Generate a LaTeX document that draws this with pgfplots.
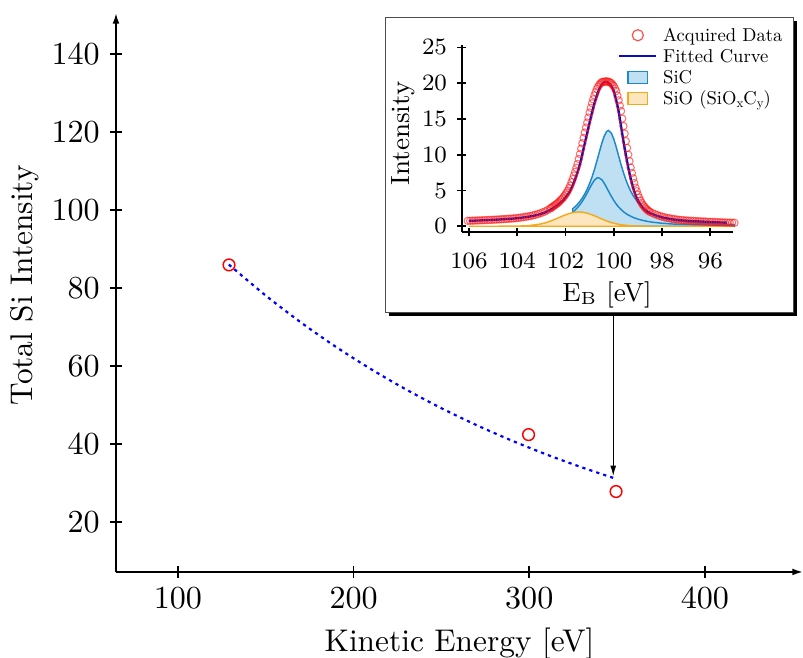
\documentclass[border=0pt]{standalone}
\usepackage{pgfplots}
\pgfplotsset{compat=1.18}
\usetikzlibrary{arrows.meta}
\definecolor{sicline}{RGB}{30,136,200}
\definecolor{sicfill}{RGB}{190,224,242}
\definecolor{sioline}{RGB}{245,170,30}
\definecolor{siofill}{RGB}{253,230,190}
\definecolor{fitcol}{RGB}{10,10,190}
\definecolor{datacol}{RGB}{255,20,20}
\font\legrm="[lmroman10-regular]:+tlig;" at 6.35pt
\font\legsub="[lmroman10-regular]:+tlig;" at 4.4pt
\begin{document}
\begin{tikzpicture}
\begin{axis}[
  at={(0pt,0pt)}, anchor=south west,
  scale only axis, width=234.42pt, height=190.74pt,
  xmin=64.77, xmax=455.8, ymin=7.18, ymax=150.5,
  axis lines=left,
  axis line style={line width=0.6pt, -{Latex[length=3.6pt,width=2.3pt]}},
  xtick={100,200,300,400}, ytick={20,40,...,140},
  tick align=center, major tick length=4pt,
  tick style={line width=0.6pt, black},
  ticklabel style={font=\fontsize{10.5}{12}\selectfont},
  label style={font=\fontsize{10.7}{13}\selectfont},
  xlabel={Kinetic Energy [eV]}, ylabel={Total Si Intensity},
  xlabel style={at={(axis description cs:0.5,0)}, anchor=base, yshift=-27pt},
  ylabel style={at={(axis description cs:0,0.513)}, anchor=center, yshift=31pt},
  clip=false,
]
\addplot[blue, line width=0.75pt, dash pattern=on 1.1pt off 1.4pt, smooth] coordinates {
(129,86.0) (150,78.05) (170,71.17) (190,64.88) (210,59.16) (230,53.94) (250,49.17) (270,44.83) (290,40.88) (310,37.27) (330,33.99) (347.8,31.30)};
\addplot[only marks, mark=o, mark size=2pt, red, mark options={line width=0.5pt}] coordinates {
(129.1,85.9) (299.6,42.4) (349.4,27.8)};
\end{axis}
% arrow and inset frame
\draw[line width=0.35pt, -{Latex[length=3.5pt,width=2pt]}] (169.67pt,88.72pt) -- (169.67pt,32.76pt);
\fill[black] (93.0pt,87.5pt) rectangle (232.3pt,188.0pt);
\filldraw[fill=white, draw=black!70, line width=0.3pt] (91.79pt,88.72pt) rectangle (231.0pt,189.37pt);
\begin{axis}[
  at={(117.96pt,116.01pt)}, anchor=south west,
  scale only axis, width=92.67pt, height=63.70pt,
  xmin=95.05, xmax=106.3, ymin=-0.8, ymax=25.3,
  x dir=reverse,
  axis lines=left, axis line style={line width=0.6pt, -},
  xtick={96,98,...,106}, ytick={0,5,...,25},
  tick align=center, major tick length=3pt, tick style={line width=0.6pt,black},
  ticklabel style={font=\fontsize{8.5}{10}\selectfont},
  xticklabel style={yshift=-2.3pt},
  label style={font=\fontsize{9}{11}\selectfont},
  xlabel={E$_\mathrm{B}$ [eV]}, ylabel={Intensity},
  xlabel style={at={(axis description cs:0.535,0)}, anchor=center, yshift=-21.5pt},
  ylabel style={at={(axis description cs:0,0.527)}, anchor=center, yshift=19.8pt},
  legend style={at={(axis description cs:1.183,1.104)}, anchor=north east, draw=none, fill=none,
    font=\legrm, row sep=1.2pt, column sep=2pt, inner sep=0pt,
    nodes={inner sep=0pt, text height=5pt, text depth=1pt},
    cells={anchor=west}},
  clip=false,
]
% SiC main component (filled)
\addplot[sicline, line width=0.5pt, fill=sicfill, forget plot] coordinates {
(101.7,2.45) (101.6,2.74) (101.5,3.08) (101.4,3.49) (101.3,3.96) (101.2,4.53) (101.1,5.19) (101.0,5.98) (100.9,6.89) (100.8,7.94) (100.7,9.12) (100.6,10.35) (100.5,11.55) (100.4,12.57) (100.3,13.23) (100.22,13.4) (100.1,13.02) (100.0,12.20) (99.9,11.08) (99.8,9.85) (99.7,8.63) (99.6,7.51) (99.5,6.51) (99.4,5.65) (99.3,4.91) (99.2,4.29) (99.0,3.32) (98.8,2.62) (98.6,2.11) (98.4,1.73) (98.2,1.44) (98.0,1.21) (97.5,0.83) (97.0,0.61) (96.5,0.46) (96.0,0.36) (95.5,0.29) (95.0,0.24)} \closedcycle;
% SiC second component (outline)
\addplot[sicline, line width=0.5pt, forget plot] coordinates {
(101.7,1.98) (101.6,2.27) (101.5,2.62) (101.4,3.02) (101.3,3.50) (101.2,4.05) (101.1,4.66) (101.0,5.31) (100.9,5.93) (100.8,6.44) (100.7,6.75) (100.64,6.8) (100.5,6.52) (100.4,6.05) (100.3,5.44) (100.2,4.79) (100.1,4.17) (100.0,3.61) (99.9,3.11) (99.8,2.69) (99.7,2.34) (99.6,2.04) (99.5,1.78) (99.4,1.57) (99.2,1.24) (99.0,1.00) (98.8,0.82) (98.6,0.68) (98.4,0.57) (98.0,0.42) (97.5,0.30) (97.0,0.23) (96.0,0.14) (95.0,0.10)};
% SiO component (filled)
\addplot[sioline, line width=0.5pt, fill=siofill, forget plot] coordinates {
(106.0,0) (105.0,0) (104.0,0.016) (103.5,0.088) (103.0,0.335) (102.8,0.516) (102.6,0.748) (102.4,1.02) (102.2,1.32) (102.0,1.60) (101.8,1.83) (101.6,1.97) (101.45,2.0) (101.3,1.97) (101.1,1.83) (100.9,1.60) (100.7,1.32) (100.5,1.02) (100.3,0.748) (100.1,0.516) (99.9,0.335) (99.7,0.205) (99.4,0.088) (99.0,0.023) (98.5,0.003) (98.0,0) (95.0,0)} \closedcycle;
% acquired data
\addplot[only marks, mark=o, mark size=1.25pt, datacol, mark options={line width=0.35pt, draw opacity=0.6}, forget plot] table[row sep=\\] {
106.05 0.76\\ 105.95 0.77\\ 105.85 0.78\\ 105.75 0.80\\ 105.65 0.81\\ 105.55 0.82\\ 105.45 0.84\\ 105.35 0.85\\ 105.25 0.87\\ 105.15 0.89\\
105.05 0.90\\ 104.95 0.92\\ 104.85 0.94\\ 104.75 0.96\\ 104.65 0.98\\ 104.55 1.00\\ 104.45 1.02\\ 104.35 1.05\\ 104.25 1.07\\ 104.15 1.10\\
104.05 1.13\\ 103.95 1.17\\ 103.85 1.22\\ 103.75 1.27\\ 103.65 1.32\\ 103.55 1.38\\ 103.45 1.44\\ 103.35 1.52\\ 103.25 1.60\\ 103.15 1.70\\
103.05 1.81\\ 102.95 1.94\\ 102.85 2.07\\ 102.75 2.25\\ 102.65 2.45\\
102.60 2.55\\ 102.55 2.67\\ 102.50 2.80\\ 102.45 2.92\\ 102.40 3.05\\ 102.35 3.17\\ 102.30 3.30\\ 102.25 3.47\\ 102.20 3.65\\ 102.15 3.82\\
102.10 4.00\\ 102.05 4.22\\ 102.00 4.45\\ 101.95 4.72\\ 101.90 5.00\\ 101.85 5.35\\ 101.80 5.70\\ 101.75 6.15\\ 101.70 6.60\\ 101.65 7.10\\
101.60 7.60\\ 101.55 8.15\\ 101.50 8.70\\ 101.45 9.40\\ 101.40 10.10\\ 101.35 10.85\\ 101.30 11.60\\ 101.25 12.35\\ 101.20 13.10\\ 101.15 13.80\\
101.10 14.50\\ 101.05 15.20\\ 101.00 15.90\\ 100.95 16.55\\ 100.90 17.20\\ 100.85 17.75\\ 100.80 18.30\\ 100.75 18.75\\ 100.70 19.20\\ 100.65 19.50\\
100.60 19.80\\ 100.55 19.98\\ 100.50 20.15\\ 100.45 20.18\\ 100.40 20.20\\ 100.35 20.25\\ 100.30 20.25\\ 100.25 20.22\\ 100.20 20.20\\ 100.15 20.10\\
100.10 20.00\\ 100.05 19.80\\ 100.00 19.60\\ 99.95 19.25\\ 99.90 18.90\\ 99.85 18.25\\ 99.80 17.60\\ 99.75 16.85\\ 99.70 16.10\\ 99.65 15.05\\
99.60 14.00\\ 99.55 12.95\\ 99.50 11.90\\ 99.45 10.95\\ 99.40 10.00\\ 99.35 9.10\\ 99.30 8.20\\ 99.25 7.45\\ 99.20 6.70\\ 99.15 6.05\\
99.10 5.40\\ 99.05 4.90\\ 99.00 4.40\\ 98.95 4.00\\ 98.90 3.60\\ 98.85 3.30\\ 98.80 3.00\\ 98.75 2.80\\ 98.70 2.60\\ 98.65 2.42\\
98.60 2.25\\ 98.55 2.12\\ 98.50 2.00\\
98.40 1.85\\ 98.30 1.70\\ 98.20 1.57\\ 98.10 1.45\\ 98.00 1.35\\ 97.90 1.25\\ 97.80 1.18\\ 97.70 1.12\\ 97.60 1.05\\ 97.50 1.00\\
97.40 0.95\\ 97.30 0.90\\ 97.20 0.87\\ 97.10 0.84\\ 97.00 0.81\\ 96.90 0.79\\ 96.80 0.77\\ 96.70 0.75\\ 96.60 0.73\\ 96.50 0.71\\
96.40 0.69\\ 96.30 0.67\\ 96.20 0.65\\ 96.10 0.63\\ 96.00 0.62\\ 95.90 0.60\\ 95.80 0.59\\ 95.70 0.57\\ 95.60 0.56\\ 95.50 0.54\\
95.40 0.53\\ 95.30 0.52\\ 95.20 0.51\\ 95.10 0.50\\ 95.00 0.49\\
};
% fitted curve
\addplot[fitcol, line width=0.8pt, smooth, forget plot] coordinates {
(106.0,0.75) (105.5,0.82) (105.0,0.90) (104.5,1.00) (104.0,1.12) (103.5,1.35) (103.2,1.55) (103.0,1.75) (102.8,2.0) (102.6,2.35) (102.4,2.8) (102.2,3.3) (102.0,4.0) (101.8,5.0) (101.6,6.6) (101.4,8.7) (101.2,11.6) (101.0,14.5) (100.8,17.2) (100.6,19.2) (100.5,19.8) (100.4,20.15) (100.3,20.2) (100.2,20.0) (100.1,19.6) (100.0,18.9) (99.9,17.6) (99.8,16.1) (99.7,14.0) (99.6,11.9) (99.5,10.0) (99.4,8.2) (99.3,6.7) (99.2,5.4) (99.1,4.4) (99.0,3.6) (98.8,2.6) (98.6,2.0) (98.4,1.7) (98.2,1.45) (98.0,1.25) (97.7,1.05) (97.4,0.9) (97.0,0.78) (96.5,0.68) (96.0,0.6) (95.5,0.52) (95.3,0.5)};
\addlegendimage{legend image code/.code={\path[draw=none,fill=none] (0pt,-2.2pt) rectangle (12.6pt,2.2pt); \draw[red!70, fill=none, line width=0.4pt] (6.3pt,0pt) circle (1.9pt);}}
\addlegendentry{Acquired Data}
\addlegendimage{legend image code/.code={\path[draw=none,fill=none] (0pt,-2.2pt) rectangle (12.6pt,2.2pt); \draw[fitcol, line width=0.7pt] (0pt,0pt) -- (12.6pt,0pt);}}
\addlegendentry{Fitted Curve}
\addlegendimage{legend image code/.code={\path[draw=none,fill=none] (0pt,-2.2pt) rectangle (12.6pt,2.2pt); \draw[sicline, fill=sicfill, line width=0.5pt] (3pt,-2pt) rectangle (9.6pt,2pt);}}
\addlegendentry{SiC}
\addlegendimage{legend image code/.code={\path[draw=none,fill=none] (0pt,-2.2pt) rectangle (12.6pt,2.2pt); \draw[sioline, fill=siofill, line width=0.5pt] (3pt,-2pt) rectangle (9.6pt,2pt);}}
\addlegendentry{SiO (SiO\raisebox{-1pt}{\legsub x}C\raisebox{-1pt}{\legsub y})}
\end{axis}
\pgfresetboundingbox
\path[use as bounding box] (-39.58pt,-29.34pt) rectangle (234.42pt,195.17pt);
\end{tikzpicture}
\end{document}
